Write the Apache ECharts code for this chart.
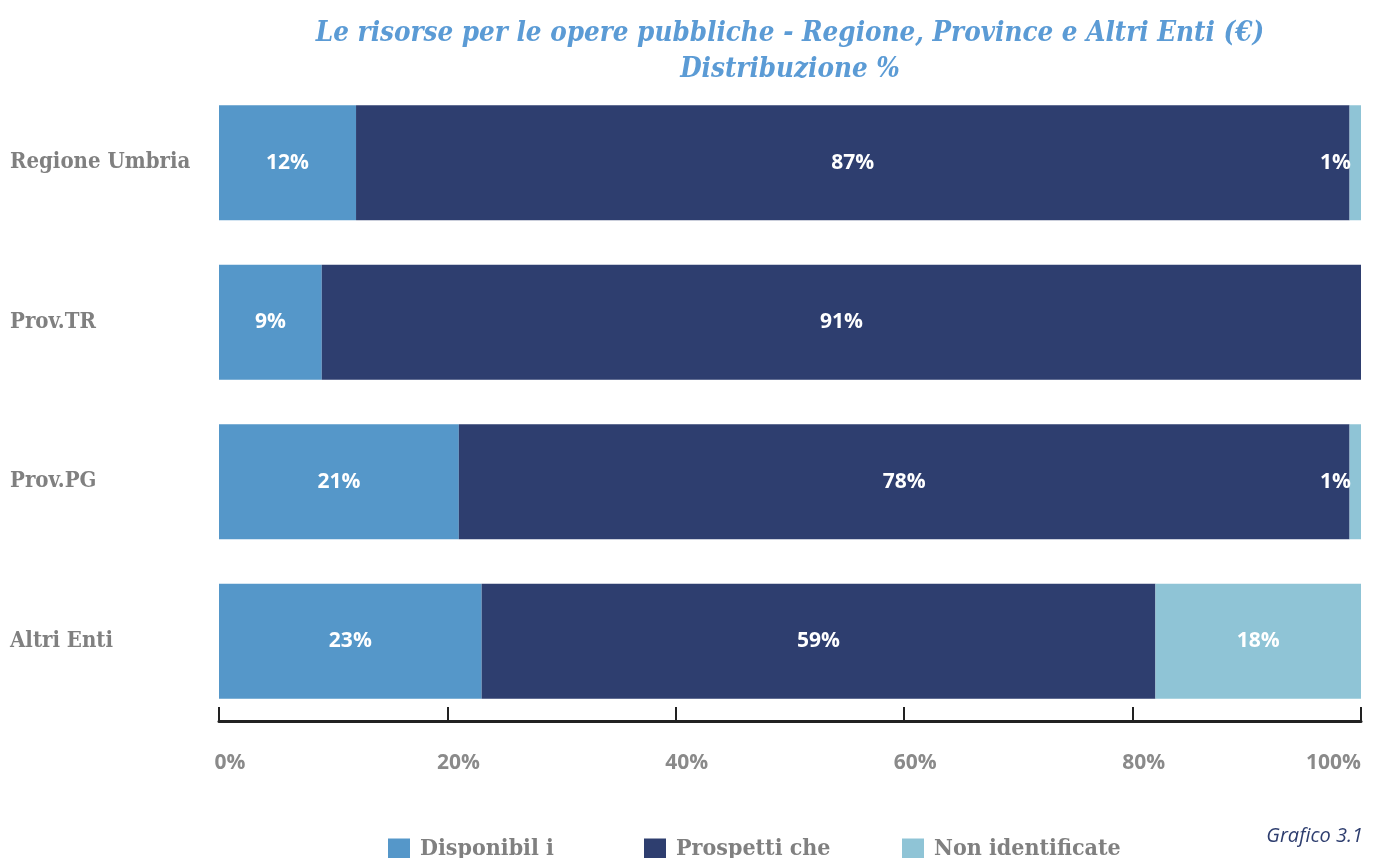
<!DOCTYPE html>
<html>
<head>
<meta charset="utf-8">
<script src="https://cdn.jsdelivr.net/npm/echarts@6/dist/echarts.min.js"></script>
<style>
html,body{margin:0;padding:0;background:#fff;}
#chart{width:1376px;height:858px;}
</style>
</head>
<body>
<div id="chart"></div>
<script>
const categories = ['Regione Umbria', 'Prov.TR', 'Prov.PG', 'Altri Enti'];
const seriesNames = ['Disponibil i', 'Prospetti che', 'Non identificate'];
const disponibili = [12, 9, 21, 23];
const prospettiche = [87, 91, 78, 59];
const nonIdentificate = [1, 0, 1, 18];
const xTicks = [0, 20, 40, 60, 80, 100];
const titleText = 'Le risorse per le opere pubbliche - Regione, Province e Altri Enti (€)\nDistribuzione %';
const footText = 'Grafico 3.1';

const colors = ['#5597C9', '#2E3E6F', '#8FC4D6'];
const legendLefts = [383, 639, 897];
const labelStyle = {
  show: true,
  color: '#ffffff',
  fontFamily: 'Open Sans',
  fontWeight: 'bold',
  fontSize: 21,
  formatter: p => (p.value > 0 ? p.value + '%' : '')
};

const chart = echarts.init(document.getElementById('chart'), null, {renderer: 'canvas'});
chart.setOption({
  animation: false,
  color: colors,
  grid: {left: 219, right: 15, top: 83, bottom: 137, containLabel: false},
  xAxis: {
    type: 'value',
    min: xTicks[0],
    max: xTicks[xTicks.length - 1],
    interval: 20,
    splitLine: {show: false},
    axisLine: {show: true, lineStyle: {color: '#222222', width: 3}},
    axisTick: {show: true, inside: true, length: 14, lineStyle: {color: '#222222', width: 2}},
    axisLabel: {
      formatter: v => v + '%',
      color: '#8a8a8a',
      fontFamily: 'Open Sans',
      fontWeight: 'bold',
      fontSize: 21,
      margin: 32,
      padding: [0, 0, 0, 22],
      alignMaxLabel: 'right'
    }
  },
  yAxis: {
    type: 'category',
    inverse: true,
    data: categories,
    axisLine: {show: false},
    axisTick: {show: false},
    axisLabel: {
      align: 'left',
      margin: 209,
      color: '#808080',
      fontFamily: 'DejaVu Serif Condensed',
      fontWeight: 'bold',
      fontSize: 22,
      padding: [5, 0, 0, 0]
    }
  },
  legend: seriesNames.map((name, i) => ({
    left: legendLefts[i],
    top: 833,
    itemWidth: 22,
    itemHeight: 22,
    icon: 'rect',
    selectedMode: false,
    data: [name],
    textStyle: {
      color: '#808080',
      fontFamily: 'DejaVu Serif Condensed',
      fontWeight: 'bold',
      fontSize: 23,
      padding: [0, 0, 0, 5]
    }
  })),
  graphic: [
    {
      type: 'text',
      x: 790,
      y: 16,
      style: {
        text: titleText,
        textAlign: 'center',
        textVerticalAlign: 'top',
        fill: '#5B9BD5',
        font: 'italic bold 27.5px "DejaVu Serif Condensed"',
        lineHeight: 36
      }
    },
    {
      type: 'text',
      right: 13,
      top: 826,
      style: {
        text: footText,
        fill: '#2E3E6F',
        font: 'italic 20px "Liberation Sans Narrow", "Open Sans"'
      }
    }
  ],
  series: [
    {
      name: seriesNames[0], type: 'bar', stack: 'total', barWidth: 115,
      data: disponibili, label: Object.assign({}, labelStyle, {position: 'inside'})
    },
    {
      name: seriesNames[1], type: 'bar', stack: 'total', barWidth: 115,
      data: prospettiche, label: Object.assign({}, labelStyle, {position: 'inside'})
    },
    {
      name: seriesNames[2], type: 'bar', stack: 'total', barWidth: 115,
      data: nonIdentificate.map(v => ({
        value: v,
        label: v < 5 ? {position: 'insideRight', distance: 10} : {position: 'inside'}
      })),
      label: Object.assign({}, labelStyle, {position: 'inside'})
    }
  ]
});
</script>
</body>
</html>
